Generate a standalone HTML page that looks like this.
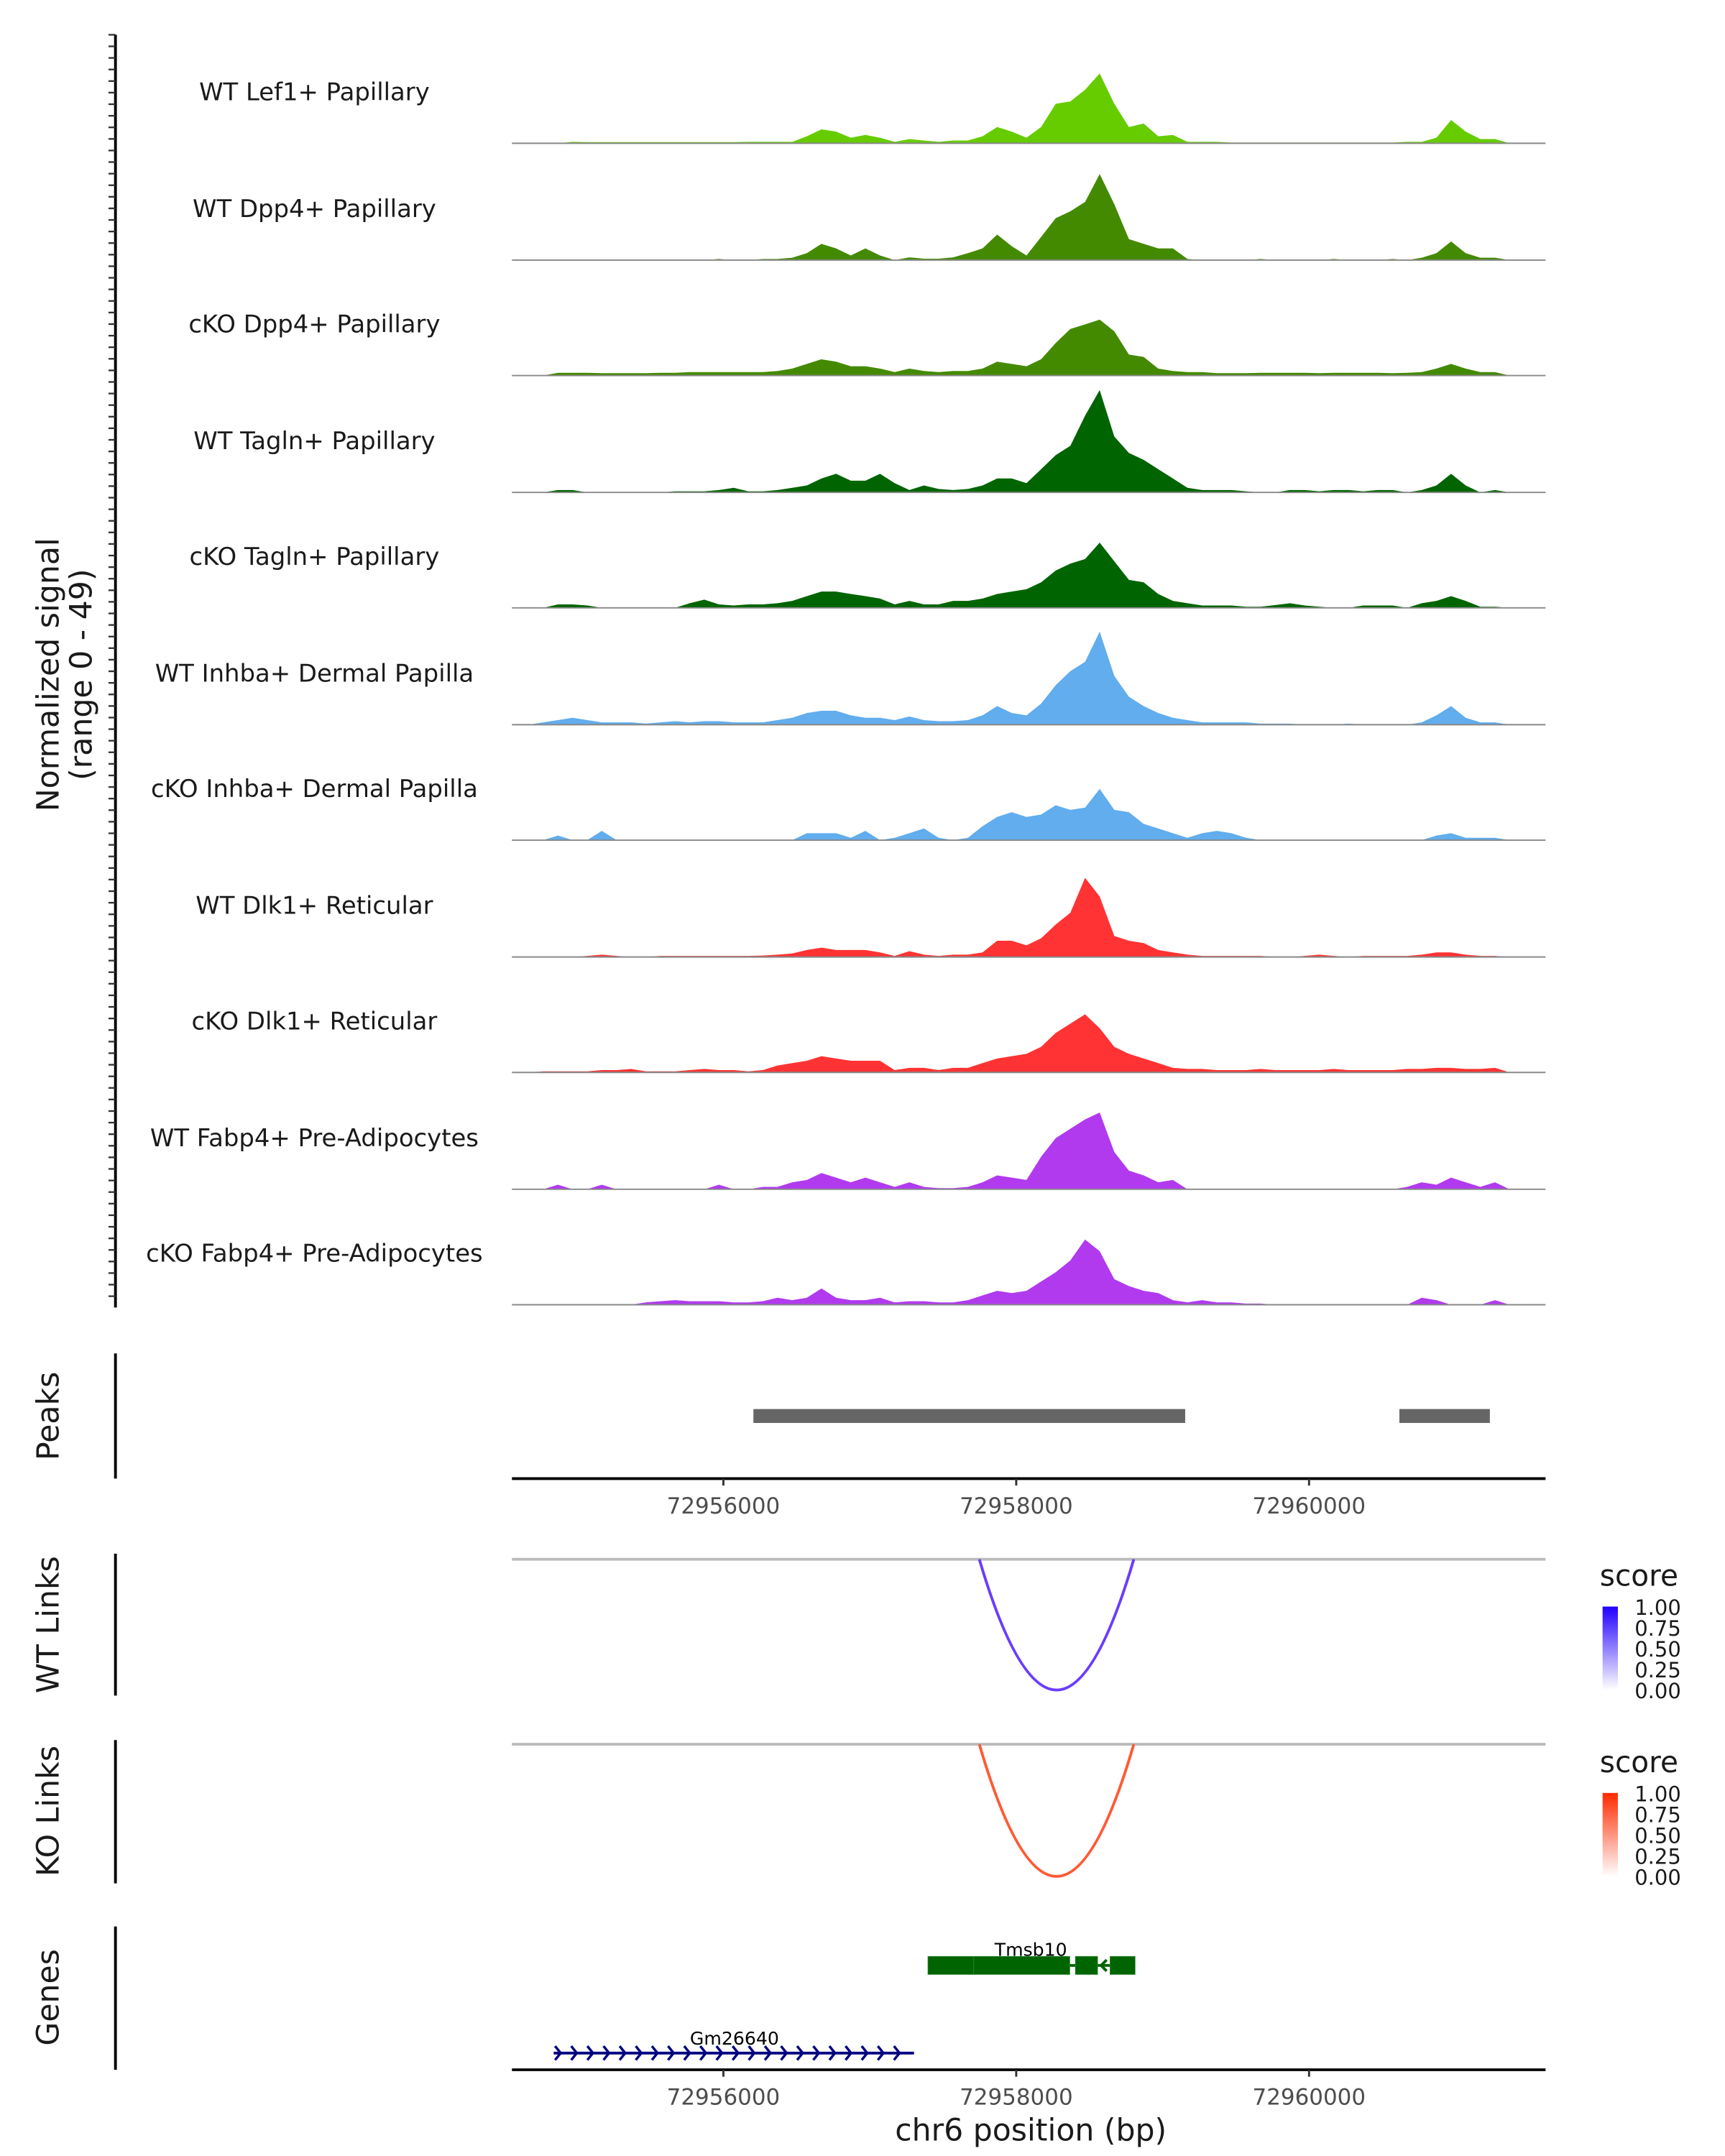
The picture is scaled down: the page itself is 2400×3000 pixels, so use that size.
<!DOCTYPE html>
<html><head><meta charset="utf-8"><style>
html,body{margin:0;padding:0;background:#fff}
svg{display:block}
text{font-family:"DejaVu Sans","Liberation Sans",sans-serif}
</style></head><body>
<svg id="chart" xmlns="http://www.w3.org/2000/svg" width="2400" height="3000" viewBox="0 0 1240 1550">
<g id="tracks"></g>
<g id="axes"></g>
<text transform="translate(42,485) rotate(-90)" text-anchor="middle" font-size="22" fill="#1a1a1a">Normalized signal</text>
<text transform="translate(66,485) rotate(-90)" text-anchor="middle" font-size="22" fill="#1a1a1a">(range 0 - 49)</text>
<text transform="translate(42,1018) rotate(-90)" text-anchor="middle" font-size="22" fill="#1a1a1a">Peaks</text>
<text transform="translate(42,1168) rotate(-90)" text-anchor="middle" font-size="22" fill="#1a1a1a">WT Links</text>
<text transform="translate(42,1302) rotate(-90)" text-anchor="middle" font-size="22" fill="#1a1a1a">KO Links</text>
<text transform="translate(42,1436) rotate(-90)" text-anchor="middle" font-size="22" fill="#1a1a1a">Genes</text>
<text x="741" y="1539" text-anchor="middle" font-size="22" fill="#1a1a1a">chr6 position (bp)</text>
<defs>
<linearGradient id="gb" x1="0" y1="1" x2="0" y2="0"><stop offset="0" stop-color="#ffffff"/><stop offset="1" stop-color="#2200ff"/></linearGradient>
<linearGradient id="gr" x1="0" y1="1" x2="0" y2="0"><stop offset="0" stop-color="#ffffff"/><stop offset="1" stop-color="#ff2a00"/></linearGradient>
</defs>
<g>
<text x="1150" y="1140" font-size="21" fill="#1a1a1a">score</text>
<rect x="1152" y="1155" width="11" height="60" fill="url(#gb)"/>
<text x="1175" y="1161" font-size="15" fill="#1a1a1a">1.00</text><text x="1175" y="1176" font-size="15" fill="#1a1a1a">0.75</text><text x="1175" y="1191" font-size="15" fill="#1a1a1a">0.50</text><text x="1175" y="1206" font-size="15" fill="#1a1a1a">0.25</text><text x="1175" y="1221" font-size="15" fill="#1a1a1a">0.00</text>
</g>
<g>
<text x="1150" y="1274" font-size="21" fill="#1a1a1a">score</text>
<rect x="1152" y="1289" width="11" height="60" fill="url(#gr)"/>
<text x="1175" y="1295" font-size="15" fill="#1a1a1a">1.00</text><text x="1175" y="1310" font-size="15" fill="#1a1a1a">0.75</text><text x="1175" y="1325" font-size="15" fill="#1a1a1a">0.50</text><text x="1175" y="1340" font-size="15" fill="#1a1a1a">0.25</text><text x="1175" y="1355" font-size="15" fill="#1a1a1a">0.00</text>
</g>
</svg>
<script>
const START = 72954570, STEP = 100;
const trackNames = ["WT Lef1+ Papillary","WT Dpp4+ Papillary","cKO Dpp4+ Papillary","WT Tagln+ Papillary","cKO Tagln+ Papillary","WT Inhba+ Dermal Papilla","cKO Inhba+ Dermal Papilla","WT Dlk1+ Reticular","cKO Dlk1+ Reticular","WT Fabp4+ Pre-Adipocytes","cKO Fabp4+ Pre-Adipocytes"];
const trackColors = ["#66cc00","#448a00","#448a00","#006400","#006400","#61aded","#61aded","#ff3333","#ff3333","#b13aee","#b13aee"];
const lef1WT = [0,0,0,0,0.6,0.5,0.5,0.5,0.5,0.5,0.5,0.5,0.5,0.5,0.5,0.5,0.6,0.6,0.6,0.6,3,6,5,2.4,3.6,2.4,0.6,1.8,1.2,0.6,1.2,1.2,3,7,5,2.4,7,17,18,23,30,17,7,8.5,3,3.6,0.6,0.6,0.6,0.3,0.3,0.3,0.3,0.3,0.3,0.3,0.3,0.3,0.3,0.3,0.3,0.6,0.6,2.4,10,5,1.8,1.8,0];
const dpp4WT = [0,0,0,0,0,0,0,0,0,0,0,0,0,0,0.5,0,0,0.5,0.5,1,3,7,5,2,5,2,0,1.2,0.6,0.6,1.2,3,5,11,6,2,10,18,21,25,37,24,9,7,5,5,0.5,0,0,0,0,0.5,0,0,0,0,0.5,0,0,0,0.5,0,1,3,8,3,1,1,0];
const dpp4KO = [0,0,0,1.2,1.2,1.2,1,1,1,1,1.2,1.2,1.5,1.5,1.5,1.5,1.5,1.5,2,3,5,7,6,4,4,3,1.5,3,2,1.5,2,2,3,6,5,4,7,14,20,22,24,19,9,8,3,2,1.5,1.5,1,1,1,1.2,1.2,1.2,1.2,1,1.2,1.2,1.2,1.2,1,1.2,1.5,3,5,3,1.5,1.5,0];
const taglnWT = [0,0,0,1,1,0,0,0,0,0,0,0.5,0.5,0.5,1,2,0.5,0.5,1,2,3,6,8,5,5,8,4,1,3,1.5,1,1.5,3,6,6,4,10,16,20,33,44,24,17,14,10,6,2,1,1,1,0.5,0,0,1,1,0.5,1,1,0.5,1,1,0,1,3,8,3,0,1,0];
const taglnKO = [0,0,0,1.5,1.5,1,0,0,0,0,0,0,2,3.5,1.5,1,1.5,1.5,2,3,5,7,7,6,5,4,1.5,3,1.5,1.5,3,3,4,6,7,8,11,16,19,21,28,20,12,11,6,3,2,1,1,1,0.5,0.5,1.2,2,1,0.5,0,0,1,1,1,0,2,3,5,3,0.5,0.5,0];
const inhbaWT = [0,0,1,2,3,2,1,1,1,0.5,1,1.5,1,1.5,1.5,1,1,1,2,3,5,6,6,4,3,3,2,3.5,2,1.5,1.5,2,4,8,5,4,9,17,23,27,40,21,12,8,5,3,2,1,1,1,1,0.5,0.5,0.5,0,0,0,0.5,0,0,0,0,1,4,8,3,1,1,0];
const inhbaKO = [0,0,0,2,0,0,4,0,0,0,0,0,0,0,0,0,0,0,0,0,3,3,3,1,4,0,1,3,5,1,0,1,6,10,12,10,11,15,13,14,22,13,12,7,5,3,1,3,4,3,1,0,0,0,0,0,0,0,0,0,0,0,0,2,3,1,1,1,0];
const dlk1WT = [0,0,0,0,0,0.5,1,0.5,0,0,0.5,0.5,0.5,0.5,0.5,0.5,0.5,0.6,1,1.5,3,4,3,3,3,2,0.5,2.5,1,0.5,1,1,2,7,7,5,8,14,19,34,26,9,7,6,3,2,1,0.5,0.5,0.5,0.5,0.5,0,0,0.5,1,0.5,0,0.5,0.5,0.5,0.5,1,2,2,1,0.5,0.5,0];
const dlk1KO = [0,0,0.5,0.5,0.5,0.5,1,1,1.5,0.5,0.5,0.5,1,1.5,1,1,0.5,1,3,4,5,7,6,5,5,5,1,2,2,1,2,2,4,6,7,8,11,17,21,25,19,11,8,6,4,2,1.5,1.5,1,1,1,1.5,1,1,1,1,1.5,1,1,1,1,1.5,1.5,2,2,1.5,1.5,2,0];
const fabp4WT = [0,0,0,2,0,0,2,0,0,0,0,0,0,0,2,0,0,1,1,3,4,7,5,3,5,3,1,3,1,0.5,0.5,1,3,6,5,4,14,22,26,30,33,16,8,6,3,4,0,0,0,0,0,0,0,0,0,0,0,0,0,0,0,1,3,2,5,3,1,3,0];
const fabp4KO = [0,0,0,0,0,0,0,0,0,1,1.5,2,1.5,1.5,1.5,1,1,1.5,3,2,3,7,3,2,2,3,1,1.5,1.5,1,1,2,4,6,5,6,10,14,19,28,23,11,8,6,5,2,1,2,1,1,0.5,0.5,0,0,0,0,0,0,0,0,0,0,3,2,0,0,0,2,0];
const trackValues = [lef1WT,dpp4WT,dpp4KO,taglnWT,taglnKO,inhbaWT,inhbaKO,dlk1WT,dlk1KO,fabp4WT,fabp4KO];
const xTicks = [72956000,72958000,72960000];
const peakStarts = [72956205,72960617];
const peakEnds = [72959154,72961235];
const linkStart = [72957748];
const linkEnd = [72958803];
const tmsb10Exons = [[72957397,72957710],[72957710,72958366],[72958404,72958556],[72958641,72958812]];
const tmsb10Range = [72957397,72958812];
const gmRange = [72954841,72957302];

const NS='http://www.w3.org/2000/svg';
const svg=document.getElementById('chart');
const tg=document.getElementById('tracks');
const ag=document.getElementById('axes');
const X0=520, XPOS0=72956000, XS=0.10525;
const XL=368, XR=1111;
const xs = p => X0 + (p-XPOS0)*XS;
const YMAX=49, TH=82;
function mk(tag, attrs, parent){const e=document.createElementNS(NS,tag);for(const k in attrs)e.setAttribute(k,attrs[k]);(parent||svg).appendChild(e);return e;}

const baselines=[103,187,270,354,437,521,604,688,771,855,938];
trackNames.forEach((nm,t)=>{
  const b=baselines[t], vals=trackValues[t];
  const ys = v => b - v/YMAX*TH;
  let d='M'+xs(START).toFixed(1)+','+b;
  vals.forEach((v,i)=>{d+=' L'+xs(START+i*STEP).toFixed(1)+','+ys(v).toFixed(1);});
  d+=' L'+xs(START+(vals.length-1)*STEP).toFixed(1)+','+b+' Z';
  const p=mk('path',{d:d,fill:trackColors[t]},tg);
  
  
  const ln=mk('line',{x1:XL,x2:XR,y1:b,y2:b,stroke:'#888',"stroke-width":1},tg);
  
  
  const lb=mk('text',{x:226,y:b-31,"text-anchor":"middle","font-size":17.5,fill:'#1a1a1a'},tg);
  lb.textContent=nm;
  
  
});
const la=mk('line',{x1:83,x2:83,y1:25,y2:940,stroke:'#000',"stroke-width":2},ag);


for(let y=25;y<=940;y+=8.32){
  const tk=mk('line',{x1:78,x2:83,y1:y,y2:y,stroke:'#333',"stroke-width":1.2},ag);
  
  
}
[[973,1063],[1117,1219],[1251,1354],[1385,1488]].forEach(r=>{
  const l=mk('line',{x1:83,x2:83,y1:r[0],y2:r[1],stroke:'#000',"stroke-width":2},ag);
  
  
});
peakStarts.forEach((s,i)=>{
  const r=mk('rect',{x:xs(s),y:1013,width:xs(peakEnds[i])-xs(s),height:10,fill:'#666'},ag);
  
  
});
function xaxis(y,name){
  const l=mk('line',{x1:XL,x2:XR,y1:y,y2:y,stroke:'#000',"stroke-width":2},ag);
  
  
  xTicks.forEach(t=>{
    const tk=mk('line',{x1:xs(t),x2:xs(t),y1:y,y2:y+5,stroke:'#333',"stroke-width":1.5},ag);
    
    
    const tx=mk('text',{x:xs(t),y:y+25,"text-anchor":"middle","font-size":16,fill:'#4d4d4d'},ag);
    tx.textContent=t;
    
    
  });
}
xaxis(1063,'peaks-x-axis');
xaxis(1488,'genes-x-axis');
function links(top,bottom,color,name){
  const g=mk('line',{x1:XL,x2:XR,y1:top,y2:top,stroke:'#bbb',"stroke-width":2},ag);
  
  
  linkStart.forEach((s,i)=>{
    const a=xs(s), b=xs(linkEnd[i]);
    const p=mk('path',{d:`M${a},${top} Q${(a+b)/2},${2*bottom-top} ${b},${top}`,fill:'none',stroke:color,"stroke-width":2},ag);
    
    
  });
}
links(1121,1215,'#6a3cff','wt-link');
links(1254,1349,'#ff5a33','ko-link');
const gl=mk('line',{x1:xs(tmsb10Range[0]),x2:xs(tmsb10Range[1]),y1:1413,y2:1413,stroke:'#006400',"stroke-width":2},ag);


tmsb10Exons.forEach(e=>{
  const r=mk('rect',{x:xs(e[0]),y:1406.5,width:xs(e[1])-xs(e[0]),height:13,fill:'#006400',stroke:'#2f8a2f',"stroke-width":0.4},ag);
  
  
});
const ax=(xs(tmsb10Exons[2][1])+xs(tmsb10Exons[3][0]))/2;
const ar=mk('path',{d:`M${ax+2},1409 L${ax-2},1413 L${ax+2},1417`,fill:'none',stroke:'#006400',"stroke-width":2},ag);


const t1=mk('text',{x:741,y:1406,"text-anchor":"middle","font-size":13,fill:'#000'},ag);
t1.textContent='Tmsb10';


const gm=mk('line',{x1:xs(gmRange[0]),x2:xs(gmRange[1]),y1:1476,y2:1476,stroke:'#000080',"stroke-width":2},ag);


let dd='';
for(let x=xs(gmRange[0])+4;x<=xs(gmRange[1]);x+=11.6){dd+=`M${x-3},${1471} L${x+1},${1476} L${x-3},${1481} `;}
const ch=mk('path',{d:dd,fill:'none',stroke:'#000080',"stroke-width":1.8},ag);


const t2=mk('text',{x:528,y:1470,"text-anchor":"middle","font-size":13,fill:'#000'},ag);
t2.textContent='Gm26640';


</script>
</body></html>
